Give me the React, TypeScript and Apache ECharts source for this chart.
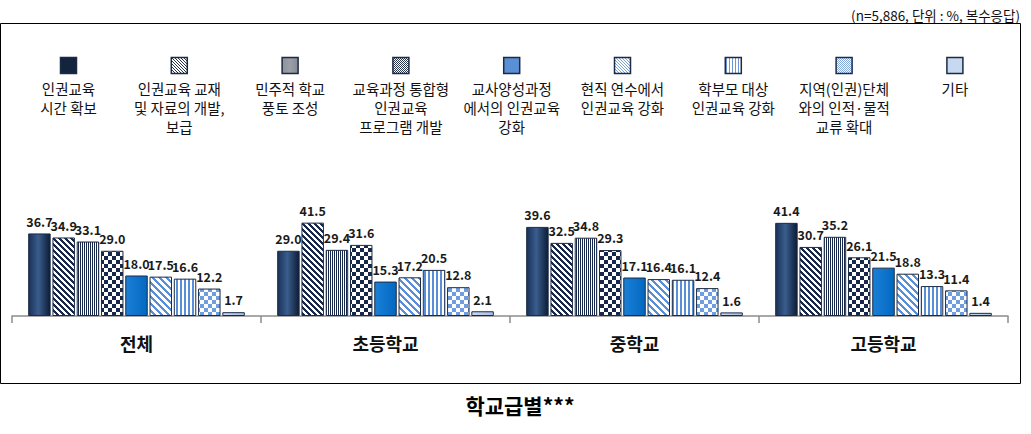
import React, { useEffect, useRef } from "react";
import * as echarts from "echarts";

const categories = ["전체", "초등학교", "중학교", "고등학교"];

const seriesNames = [
  "인권교육 시간 확보",
  "인권교육 교재 및 자료의 개발, 보급",
  "민주적 학교 풍토 조성",
  "교육과정 통합형 인권교육 프로그램 개발",
  "교사양성과정에서의 인권교육 강화",
  "현직 연수에서 인권교육 강화",
  "학부모 대상 인권교육 강화",
  "지역(인권)단체와의 인적·물적 교류 확대",
  "기타",
];

const legendLabels = [
  "인권교육\n시간 확보",
  "인권교육 교재\n및 자료의 개발,\n보급",
  "민주적 학교\n풍토 조성",
  "교육과정 통합형\n인권교육\n프로그램 개발",
  "교사양성과정\n에서의 인권교육\n강화",
  "현직 연수에서\n인권교육 강화",
  "학부모 대상\n인권교육 강화",
  "지역(인권)단체\n와의 인적·물적\n교류 확대",
  "기타",
];

const timeSecured = [36.7, 29.0, 39.6, 41.4];
const materials = [34.9, 41.5, 32.5, 30.7];
const democraticCulture = [33.1, 29.4, 34.8, 35.2];
const integratedProgram = [29.0, 31.6, 29.3, 26.1];
const teacherTraining = [18.0, 15.3, 17.1, 21.5];
const inServiceTraining = [17.5, 17.2, 16.4, 18.8];
const parentEducation = [16.6, 20.5, 16.1, 13.3];
const communityExchange = [12.2, 12.8, 12.4, 11.4];
const others = [1.7, 2.1, 1.6, 1.4];

const seriesValues = [
  timeSecured,
  materials,
  democraticCulture,
  integratedProgram,
  teacherTraining,
  inServiceTraining,
  parentEducation,
  communityExchange,
  others,
];

const noteText = "(n=5,886, 단위 : %, 복수응답)";
const titleText = "학교급별***";

const FONT = "'Noto Sans CJK KR', 'Noto Sans', sans-serif";
const NAVY = "#17284a";
const LBLUE = "#5a8fd8";

function makeTile(
  w: number,
  h: number,
  fn: (x: number, y: number) => boolean,
  fg: string,
  bg = "#ffffff"
) {
  const c = document.createElement("canvas");
  c.width = w;
  c.height = h;
  const ctx = c.getContext("2d")!;
  ctx.fillStyle = bg;
  ctx.fillRect(0, 0, w, h);
  ctx.fillStyle = fg;
  for (let y = 0; y < h; y++) {
    for (let x = 0; x < w; x++) {
      if (fn(x, y)) ctx.fillRect(x, y, 1, 1);
    }
  }
  return {
    image: c.toDataURL(),
    imageWidth: w,
    imageHeight: h,
    repeat: "repeat",
  } as any;
}

const diag = (s: number, w: number) => (x: number, y: number) =>
  (((x - y) % s) + s) % s < w;
const vert = (s: number, w: number) => (x: number) => x % s < w;
const checker = (q: number) => (x: number, y: number) =>
  (Math.floor(x / q) + Math.floor(y / q)) % 2 === 0;

function navyGradient() {
  return new echarts.graphic.LinearGradient(0, 0, 1, 0, [
    { offset: 0, color: "#1a3158" },
    { offset: 0.45, color: "#3a5d8c" },
    { offset: 1, color: "#0c1c36" },
  ]);
}
function blueGradient() {
  return new echarts.graphic.LinearGradient(0, 0, 1, 0, [
    { offset: 0, color: "#1a80d6" },
    { offset: 1, color: "#0468c0" },
  ]);
}
function paleGradient() {
  return new echarts.graphic.LinearGradient(0, 0, 1, 0, [
    { offset: 0, color: "#c9dbf2" },
    { offset: 0.5, color: "#b7cdea" },
    { offset: 1, color: "#a9c1e3" },
  ]);
}

function buildFills() {
  return [
    navyGradient(),
    makeTile(6, 6, diag(6, 3), NAVY),
    makeTile(2, 1, vert(2, 1), NAVY),
    makeTile(8, 8, checker(4), NAVY),
    blueGradient(),
    makeTile(7, 7, diag(7, 3), LBLUE),
    makeTile(4, 1, vert(4, 2), LBLUE),
    makeTile(8, 8, checker(4), "#6e9ee0"),
    paleGradient(),
  ];
}

function buildLegendFills() {
  return [
    "#13243f",
    makeTile(3, 3, diag(3, 1), "#2a3650"),
    new echarts.graphic.LinearGradient(0, 0, 1, 0, [
      { offset: 0, color: "#8f949c" },
      { offset: 0.5, color: "#9ba0a8" },
      { offset: 1, color: "#858a93" },
    ]),
    makeTile(2, 2, checker(1), "#2a3650"),
    "#5a8fd6",
    makeTile(3, 3, diag(3, 1), "#7ba3db"),
    makeTile(3, 1, vert(3, 1), "#6f98d3"),
    makeTile(2, 2, checker(1), "#86a9dc"),
    "#c6d9f1",
  ];
}

export default function App() {
  const ref = useRef<HTMLDivElement>(null);

  useEffect(() => {
    if (!ref.current) return;
    const chart = echarts.init(ref.current, undefined, { renderer: "svg" });
    const fills = buildFills();
    const legendFills = buildLegendFills();

    const legendGraphics: any[] = [];
    legendLabels.forEach((label, i) => {
      const cx = 68.5 + 110.8 * i;
      legendGraphics.push({
        type: "rect",
        silent: true,
        shape: { x: cx - 8, y: 57.5, width: 16, height: 16 },
        style: { fill: legendFills[i], stroke: "#1c2b45", lineWidth: 1.5 },
      });
      legendGraphics.push({
        type: "text",
        silent: true,
        x: cx,
        y: 78.5,
        style: {
          text: label,
          fill: "#111",
          fontSize: 14.5,
          fontFamily: FONT,
          align: "center",
          verticalAlign: "top",
          lineHeight: 19,
        },
      });
    });

    chart.setOption({
      animation: false,
      backgroundColor: "#ffffff",
      grid: { left: 12, right: 23, top: 203.5, bottom: 118, containLabel: false },
      xAxis: {
        type: "category",
        data: categories,
        axisLine: { lineStyle: { color: "#8c8c8c", width: 1.5 } },
        axisTick: { show: true, length: 7, lineStyle: { color: "#8c8c8c", width: 1.5 } },
        axisLabel: {
          margin: 18,
          fontSize: 18,
          fontWeight: "bold",
          color: "#111",
          fontFamily: FONT,
        },
      },
      yAxis: { type: "value", min: 0, max: 50, show: false },
      series: seriesValues.map((vals, i) => ({
        type: "bar",
        name: seriesNames[i],
        data: vals,
        barGap: "8%",
        barCategoryGap: "13%",
        itemStyle: { color: fills[i], borderColor: "#1c2b45", borderWidth: 1 },
        label: {
          show: true,
          position: "top",
          distance: 6,
          formatter: (p: any) => Number(p.value).toFixed(1),
          fontSize: 12.5,
          fontWeight: "bold",
          color: "#1a1a1a",
          fontFamily: FONT,
        },
      })),
      graphic: [
        {
          type: "rect",
          silent: true,
          z: -1,
          shape: { x: 0.5, y: 23.5, width: 1020, height: 360 },
          style: { fill: "none", stroke: "#000", lineWidth: 1 },
        },
        {
          type: "text",
          silent: true,
          x: 1020,
          y: 15,
          style: {
            text: noteText,
            fill: "#111",
            fontSize: 13.5,
            fontFamily: FONT,
            align: "right",
            verticalAlign: "middle",
          },
        },
        {
          type: "text",
          silent: true,
          x: 520,
          y: 405,
          style: {
            text: titleText,
            fill: "#000",
            fontSize: 21,
            fontWeight: "bold",
            fontFamily: FONT,
            align: "center",
            verticalAlign: "middle",
          },
        },
        ...legendGraphics,
      ],
    });

    return () => chart.dispose();
  }, []);

  return (
    <div
      ref={ref}
      style={{ position: "absolute", left: 0, top: 0, width: 1031, height: 434 }}
    />
  );
}
